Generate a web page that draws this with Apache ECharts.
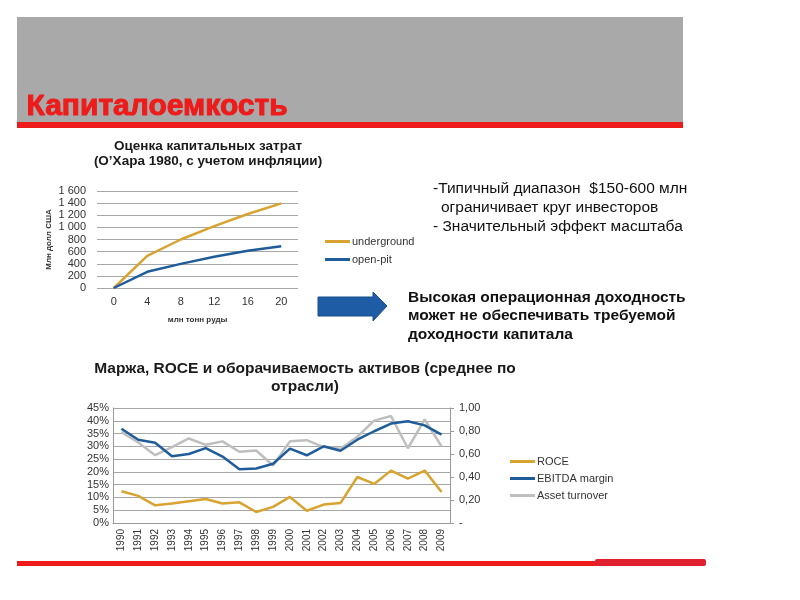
<!DOCTYPE html>
<html><head><meta charset="utf-8">
<script src="https://cdn.jsdelivr.net/npm/echarts@6/dist/echarts.min.js"></script>
<style>html,body{margin:0;padding:0;background:#fff}#c{width:800px;height:600px}</style>
</head><body><div id="c"></div>
<script>
// ---- Data ----
const capexCategories = ['0','4','8','12','16','20'];
const undergroundValues = [0, 530, 800, 1020, 1220, 1395];
const openPitValues = [0, 268, 398, 515, 615, 690];
const capexTicks = [0, 200, 400, 600, 800, 1000, 1200, 1400, 1600];

const years = ['1990','1991','1992','1993','1994','1995','1996','1997','1998','1999',
               '2000','2001','2002','2003','2004','2005','2006','2007','2008','2009'];
const roceValues = [12.4, 10.6, 6.9, 7.6, 8.5, 9.4, 7.6, 8.1, 4.3, 6.3,
                    10.2, 4.8, 7.2, 7.8, 18.0, 15.3, 20.5, 17.4, 20.5, 12.1];
const ebitdaValues = [36.9, 32.6, 31.4, 26.1, 27.0, 29.3, 26.0, 21.0, 21.3, 23.2,
                      29.1, 26.5, 30.0, 28.3, 32.6, 35.9, 38.9, 39.8, 38.2, 34.6];
const turnoverValues = [0.79, 0.70, 0.59, 0.66, 0.735, 0.68, 0.71, 0.62, 0.63, 0.50,
                        0.71, 0.72, 0.66, 0.645, 0.75, 0.89, 0.93, 0.65, 0.90, 0.665];

const GOLD = '#d9a331', BLUE = '#1f5c9a', GRAY = '#bfbfbf', RED = '#ee1b1b';
const FONT = '"Liberation Sans", Arial, sans-serif';

const chart = echarts.init(document.getElementById('c'), null, {renderer: 'canvas'});
chart.setOption({
  animation: false,
  backgroundColor: '#fff',
  textStyle: {fontFamily: FONT},
  title: [
    {text: 'Оценка капитальных затрат\n(О’Хара 1980, с учетом инфляции)', left: 203, top: 134, textAlign: 'center',
     textStyle: {fontSize: 13.5, fontWeight: 'bold', color: '#1a1a1a', lineHeight: 15, fontFamily: FONT}},
    {text: 'Маржа, ROCE и оборачиваемость активов (среднее по\nотрасли)', left: 300, top: 355, textAlign: 'center',
     textStyle: {fontSize: 15.5, fontWeight: 'bold', color: '#1a1a1a', lineHeight: 18, fontFamily: FONT}}
  ],
  legend: [
    {data: ['underground', 'open-pit'], orient: 'vertical', left: 320, top: 231, itemGap: 7,
     icon: 'rect', itemWidth: 25, itemHeight: 3, textStyle: {fontSize: 11, color: '#333', padding: [0,0,0,-3]}},
    {data: ['ROCE', 'EBITDA margin', 'Asset turnover'], orient: 'vertical', left: 505, top: 451, itemGap: 6,
     icon: 'rect', itemWidth: 25, itemHeight: 3, textStyle: {fontSize: 11, color: '#333', padding: [0,0,0,-3]}}
  ],
  grid: [
    {left: 97, top: 191, width: 201, height: 97, containLabel: false},
    {left: 113, top: 408, width: 337, height: 115, containLabel: false}
  ],
  xAxis: [
    {gridIndex: 0, type: 'category', data: capexCategories, boundaryGap: true,
     axisLine: {show: false}, axisTick: {show: false},
     axisLabel: {fontSize: 11, color: '#333', margin: 8},
     name: 'млн тонн руды', nameLocation: 'middle', nameGap: 28,
     nameTextStyle: {fontSize: 8, fontWeight: 'bold', color: '#333'}},
    {gridIndex: 1, type: 'category', data: years, boundaryGap: true,
     axisLine: {show: true, lineStyle: {color: '#999'}}, axisTick: {show: false},
     axisLabel: {fontSize: 10, color: '#333', rotate: 90, margin: 6, interval: 0}}
  ],
  yAxis: [
    {gridIndex: 0, type: 'value', min: 0, max: 1600, interval: 200,
     axisLine: {show: false}, axisTick: {show: false},
     axisLabel: {fontSize: 11, color: '#333', margin: 11,
       formatter: v => v >= 1000 ? String(v).replace(/(\d)(\d{3})$/, '$1 $2') : String(v)},
     splitLine: {lineStyle: {color: '#a6a6a6', width: 1}},
     name: 'Млн долл США', nameLocation: 'middle', nameGap: 44, nameRotate: 90,
     nameTextStyle: {fontSize: 8, fontWeight: 'bold', color: '#333'}},
    {gridIndex: 1, type: 'value', min: 0, max: 0.45, interval: 0.05, position: 'left',
     axisLine: {show: true, lineStyle: {color: '#999'}}, axisTick: {show: false},
     axisLabel: {fontSize: 11, color: '#333', margin: 4, formatter: v => Math.round(v * 100) + '%'},
     splitLine: {lineStyle: {color: '#a6a6a6', width: 1}}},
    {gridIndex: 1, type: 'value', min: 0, max: 1, interval: 0.2, position: 'right',
     axisLine: {show: true, lineStyle: {color: '#999'}},
     axisTick: {show: true, length: 4, lineStyle: {color: '#999'}},
     axisLabel: {fontSize: 11, color: '#333', margin: 9,
       formatter: v => v === 0 ? '-' : v.toFixed(2).replace('.', ',')},
     splitLine: {show: false}}
  ],
  series: [
    {name: 'underground', type: 'line', xAxisIndex: 0, yAxisIndex: 0, data: undergroundValues,
     symbol: 'none', lineStyle: {color: GOLD, width: 2.5}, itemStyle: {color: GOLD}},
    {name: 'open-pit', type: 'line', xAxisIndex: 0, yAxisIndex: 0, data: openPitValues,
     symbol: 'none', lineStyle: {color: BLUE, width: 2.5}, itemStyle: {color: BLUE}},
    {name: 'Asset turnover', type: 'line', xAxisIndex: 1, yAxisIndex: 2, data: turnoverValues,
     symbol: 'none', lineStyle: {color: GRAY, width: 2.5}, itemStyle: {color: GRAY}},
    {name: 'ROCE', type: 'line', xAxisIndex: 1, yAxisIndex: 1, data: roceValues.map(v => v / 100),
     symbol: 'none', lineStyle: {color: GOLD, width: 2.5}, itemStyle: {color: GOLD}},
    {name: 'EBITDA margin', type: 'line', xAxisIndex: 1, yAxisIndex: 1, data: ebitdaValues.map(v => v / 100),
     symbol: 'none', lineStyle: {color: BLUE, width: 2.5}, itemStyle: {color: BLUE}}
  ],
  graphic: [
    {type: 'rect', shape: {x: 17, y: 17, width: 666, height: 106}, style: {fill: '#a9a9a9'}, z: -10},
    {type: 'rect', shape: {x: 17, y: 122, width: 666, height: 6}, style: {fill: RED}, z: -9},
    {type: 'text', left: 26, top: 91, style: {text: 'Капиталоемкость', fill: RED, stroke: RED, lineWidth: 1,
      font: 'bold 30px ' + FONT}},
    {type: 'polygon', shape: {points: [[318, 297], [373, 297], [373, 292], [387, 306], [373, 321], [373, 316], [318, 316]]},
     style: {fill: '#1f5ca6', stroke: '#1a4c8a', lineWidth: 1}},
    {type: 'text', left: 433, top: 181, style: {text: '-Типичный диапазон  $150-600 млн', fill: '#111', font: '15.5px ' + FONT}},
    {type: 'text', left: 441, top: 200, style: {text: 'ограничивает круг инвесторов', fill: '#111', font: '15.5px ' + FONT}},
    {type: 'text', left: 433, top: 219, style: {text: '- Значительный эффект масштаба', fill: '#111', font: '15.5px ' + FONT}},
    {type: 'text', left: 408, top: 288, style: {text: 'Высокая операционная доходность\nможет не обеспечивать требуемой\nдоходности капитала',
      fill: '#111', font: 'bold 15.5px ' + FONT, lineHeight: 18.5}},
    {type: 'rect', shape: {x: 17, y: 561, width: 590, height: 5}, style: {fill: RED}},
    {type: 'rect', shape: {x: 595, y: 559, width: 111, height: 7, r: 2}, style: {fill: '#e0202e'}}
  ]
});
</script></body></html>
